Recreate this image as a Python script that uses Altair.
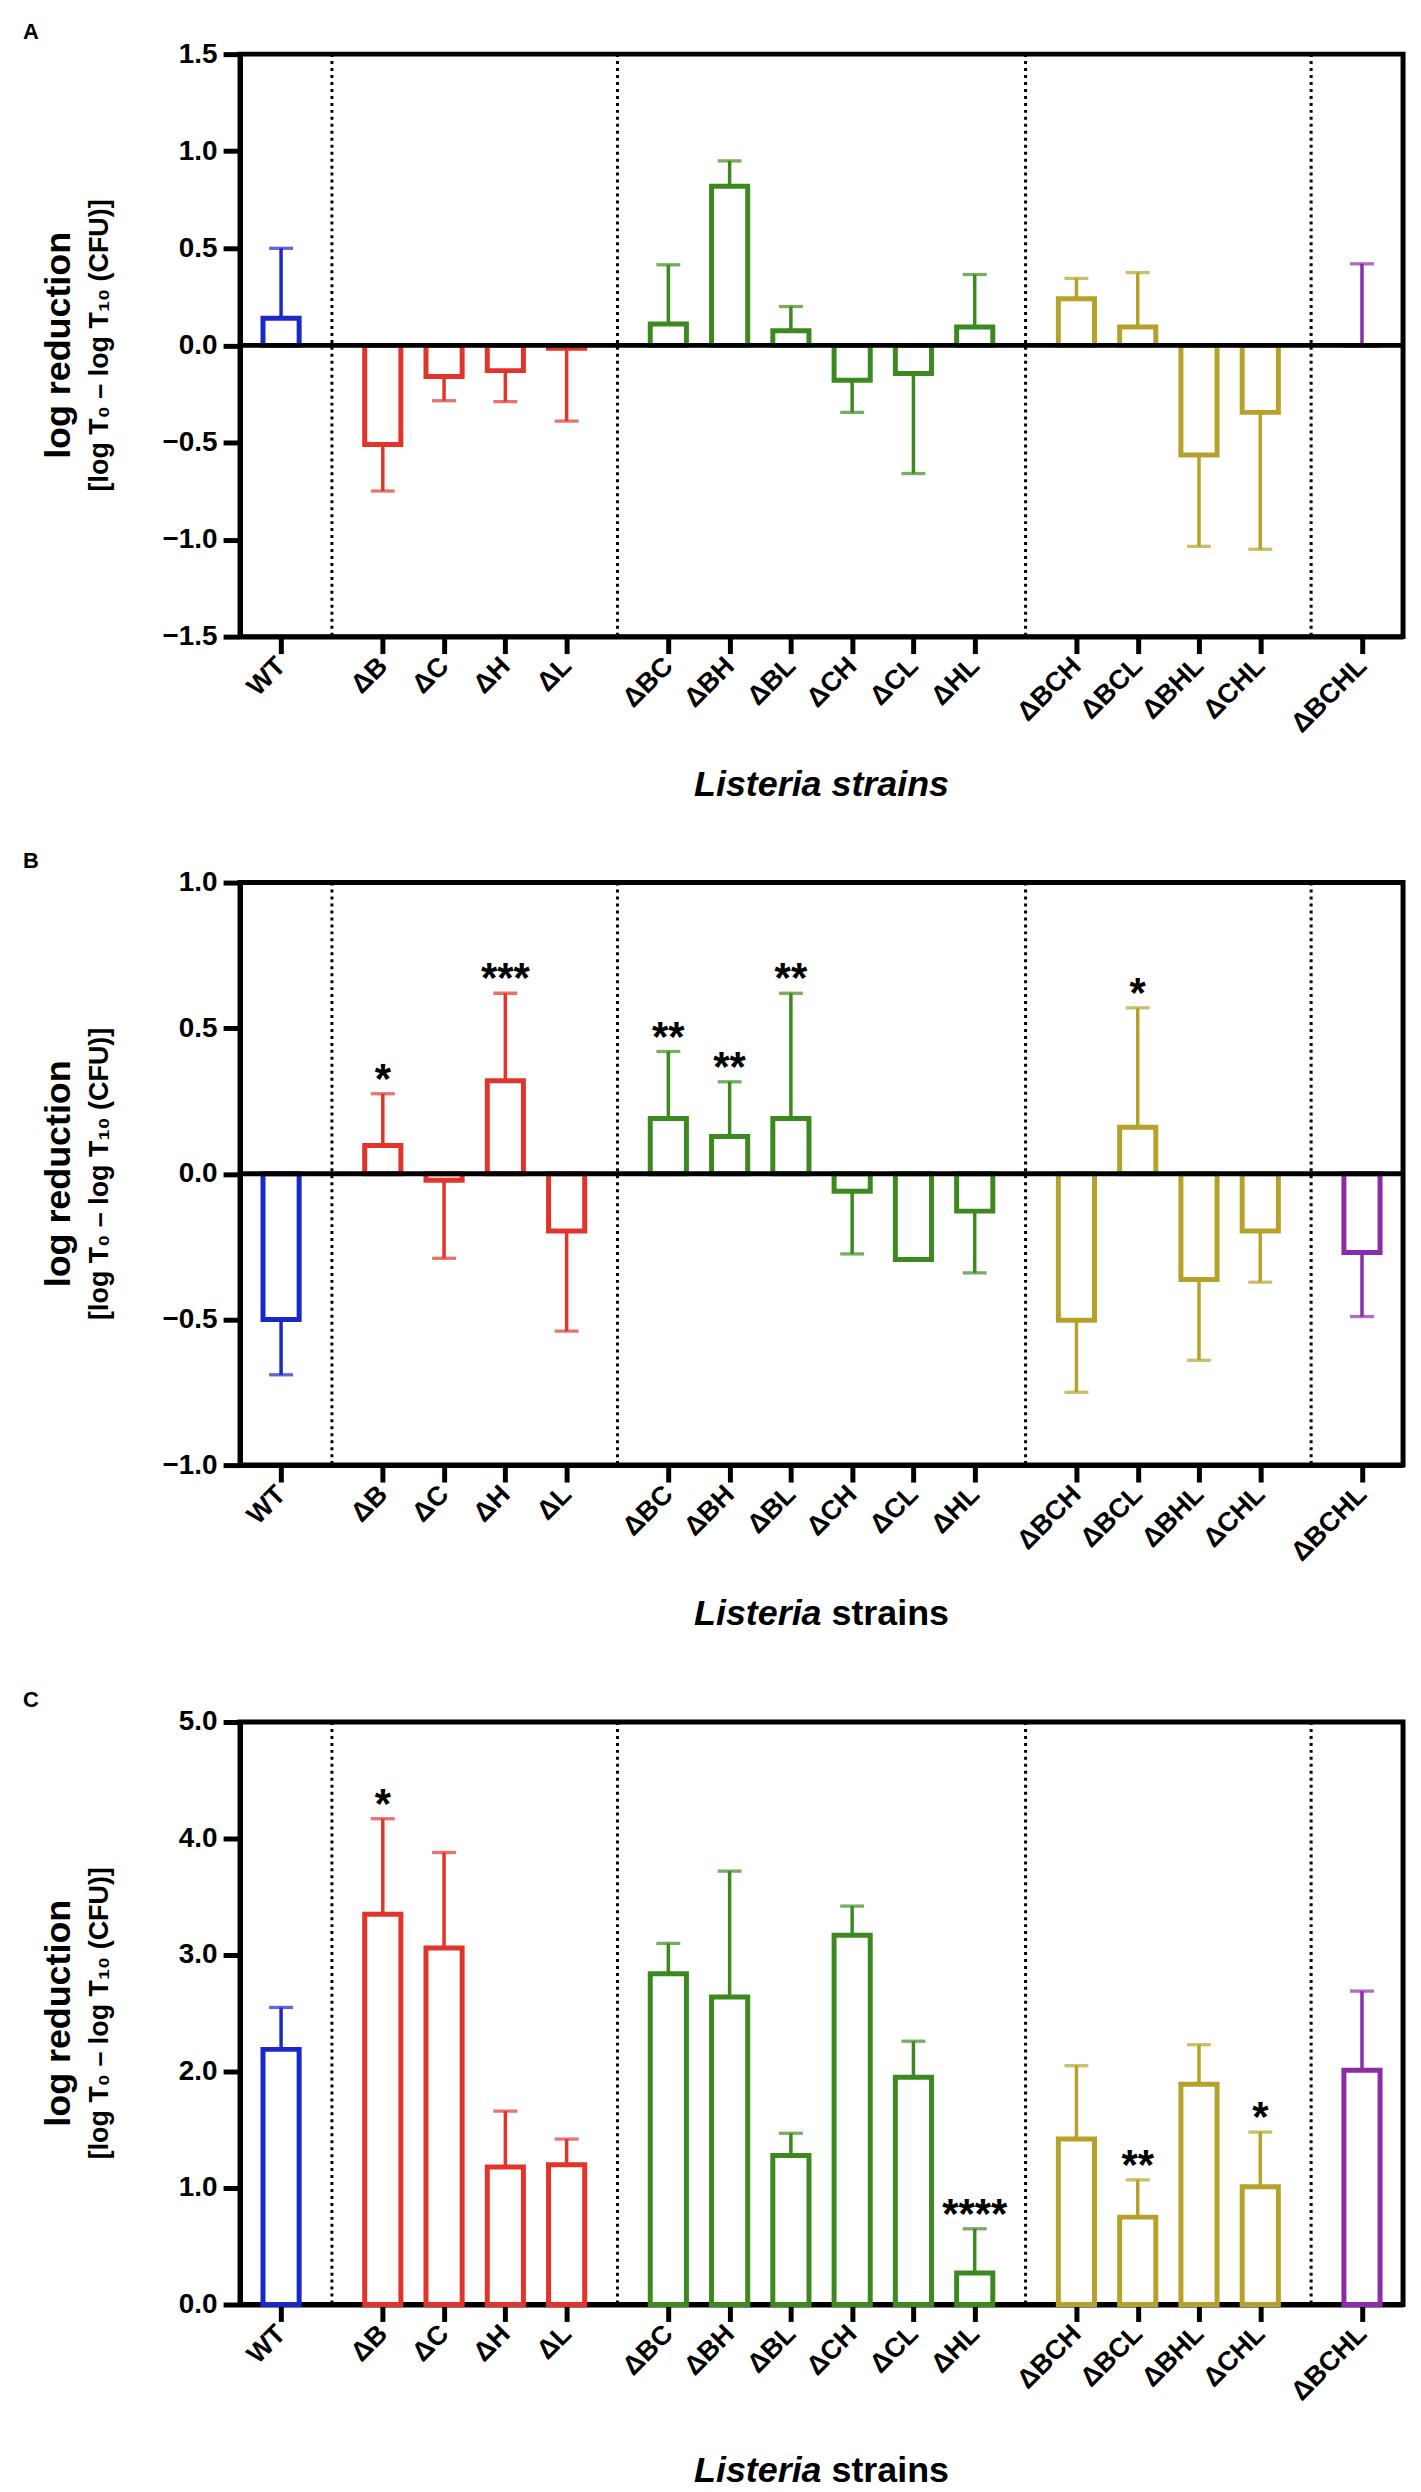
import json
import altair as alt
import pandas as pd

# ---------------- data ----------------
strains = ["WT", "ΔB", "ΔC", "ΔH", "ΔL", "ΔBC", "ΔBH", "ΔBL", "ΔCH", "ΔCL", "ΔHL",
           "ΔBCH", "ΔBCL", "ΔBHL", "ΔCHL", "ΔBCHL"]
group = [0, 1, 1, 1, 1, 2, 2, 2, 2, 2, 2, 3, 3, 3, 3, 4]
group_colors = ["#1B28C8", "#E3342C", "#3C8A1F", "#B6A12A", "#8B2CA8"]

# Panel A
A_mean = [0.14, -0.51, -0.16, -0.13, -0.015, 0.11, 0.82, 0.075, -0.18, -0.145, 0.095,
          0.24, 0.095, -0.565, -0.345, 0.0]
A_sd = [0.36, 0.24, 0.125, 0.16, 0.375, 0.305, 0.13, 0.125, 0.165, 0.515, 0.27,
        0.105, 0.28, 0.47, 0.705, 0.42]
A_sig = [""] * 16

# Panel B
B_mean = [-0.50, 0.097, -0.022, 0.32, -0.196, 0.19, 0.128, 0.19, -0.06, -0.294, -0.128,
          -0.503, 0.16, -0.363, -0.196, -0.27]
B_sd = [0.19, 0.178, 0.268, 0.30, 0.344, 0.23, 0.188, 0.43, 0.215, 0.0, 0.212,
        0.247, 0.41, 0.277, 0.176, 0.22]
B_sig = ["", "*", "", "***", "", "**", "**", "**", "", "", "", "", "*", "", "", ""]

# Panel C
C_mean = [2.19, 3.35, 3.06, 1.18, 1.20, 2.84, 2.64, 1.28, 3.17, 1.95, 0.27,
          1.42, 0.75, 1.89, 1.01, 2.01]
C_sd = [0.36, 0.82, 0.82, 0.48, 0.22, 0.26, 1.08, 0.19, 0.25, 0.31, 0.38,
        0.63, 0.32, 0.34, 0.47, 0.68]
C_sig = ["", "*", "", "", "", "", "", "", "", "", "****", "", "**", "", "*", ""]

A_ticks = [-1.5, -1.0, -0.5, 0.0, 0.5, 1.0, 1.5]
B_ticks = [-1.0, -0.5, 0.0, 0.5, 1.0]
C_ticks = [0.0, 1.0, 2.0, 3.0, 4.0, 5.0]

# ---------------- layout helpers ----------------
FONT = "Liberation Sans, Arial, Helvetica, sans-serif"
W, H = 1168, 585
GAP = 0.66          # extra space between strain groups (in bar slots)
HW = 0.295          # half bar width (in slots)
pos = [i + GAP * g for i, g in enumerate(group)]
dividers = [(pos[i] + pos[i + 1]) / 2 for i in range(len(pos) - 1) if group[i] != group[i + 1]]
XDOM = [pos[0] - 0.67, pos[-1] + 0.67]

tick_keys = [round(p * 100) for p in pos]
label_expr = (json.dumps(strains, ensure_ascii=False)
              + "[indexof(" + json.dumps(tick_keys) + ", round(datum.value*100))]")


def make_panel(letter, mean, sd, sig, ydom, yticks, whole_italic, title_base, zero_line):
    sign = [1 if m >= 0 else -1 for m in mean]
    end = [m + s * d for m, s, d in zip(mean, sign, sd)]
    df = pd.DataFrame({
        "strain": strains,
        "pos": pos,
        "lo": [p - HW for p in pos],
        "hi": [p + HW for p in pos],
        "mean": mean,
        "end": end,
        "sig": sig,
        "color": [group_colors[g] for g in group],
    })
    xs = alt.Scale(domain=XDOM, nice=False, zero=False)
    ys = alt.Scale(domain=ydom, nice=False, zero=False)
    xax = alt.Axis(values=pos, labelExpr=label_expr, labelAngle=-45, labelAlign="right",
                   labelBaseline="middle", labelFontSize=27, labelFontWeight="bold",
                   labelPadding=8, title=None, grid=False, labelOverlap=False)
    yax = alt.Axis(values=yticks, format=".1f", labelFontSize=28, labelFontWeight="bold",
                   labelPadding=6, title=None, grid=False)
    base = alt.Chart(df)
    X = lambda f: alt.X(f, scale=xs, axis=xax)
    Y = lambda f: alt.Y(f, scale=ys, axis=yax)
    col = alt.Color("color:N", scale=None)
    stk = alt.Stroke("color:N", scale=None)

    divs = alt.Chart(pd.DataFrame({"d": dividers})).mark_rule(
        color="black", strokeWidth=3, strokeDash=[3, 4]).encode(x=X("d:Q"))
    bars = base.mark_bar(fillOpacity=0, strokeWidth=5).encode(
        x=X("lo:Q"), x2="hi:Q", y=Y("mean:Q"), y2=alt.datum(0), stroke=stk)
    stems = base.mark_rule(strokeWidth=3.5).encode(
        x=X("pos:Q"), y=Y("mean:Q"), y2="end:Q", stroke=stk)
    caps = base.mark_tick(orient="horizontal", size=24, thickness=3.3).encode(
        x=X("pos:Q"), y=Y("end:Q"), color=col)
    stars = base.transform_filter("datum.sig != ''").mark_text(
        fontSize=42, fontWeight="bold", baseline="alphabetic", dy=-1, color="black",
        font=FONT).encode(x=X("pos:Q"), y=Y("end:Q"), text="sig:N")

    one = pd.DataFrame({"a": [0]})
    tx = lambda **kw: alt.Chart(one).mark_text(color="black", font=FONT, fontWeight="bold", **kw)
    letter_t = tx(text=letter, fontSize=22, baseline="middle", align="center").encode(
        x=alt.value(-210), y=alt.value(-22))
    yt1 = tx(text="log reduction", fontSize=36, angle=270, baseline="middle",
             align="center").encode(x=alt.value(-182), y=alt.value(H / 2))
    yt2 = tx(text="[log T₀ – log T₁₀ (CFU)]", fontSize=27, angle=270, baseline="middle",
             align="center").encode(x=alt.value(-141), y=alt.value(H / 2))
    layers = [divs, bars, stems, caps]
    if zero_line:
        layers.append(alt.Chart(pd.DataFrame({"z": [0.0]})).mark_rule(
            color="black", strokeWidth=5).encode(y=Y("z:Q")))
    layers += [stars, letter_t, yt1, yt2]
    if whole_italic:
        layers.append(tx(text="Listeria strains", fontSize=36, fontStyle="italic", align="center",
                         baseline="alphabetic").encode(x=alt.value(W / 2), y=alt.value(H + title_base)))
    else:
        layers.append(tx(text="Listeria", fontSize=36, fontStyle="italic", align="right",
                         baseline="alphabetic").encode(x=alt.value(W / 2), y=alt.value(H + title_base)))
        layers.append(tx(text="strains", fontSize=36, align="left",
                         baseline="alphabetic").encode(x=alt.value(W / 2 + 10), y=alt.value(H + title_base)))
    return alt.layer(*layers).properties(width=W, height=H)


pA = make_panel("A", A_mean, A_sd, A_sig, [-1.5, 1.5], A_ticks, True, 160, True)
pB = make_panel("B", B_mean, B_sd, B_sig, [-1.0, 1.0], B_ticks, False, 161, True)
pC = make_panel("C", C_mean, C_sd, C_sig, [0.0, 5.0], C_ticks, False, 178, False)

chart = alt.vconcat(alt.vconcat(pA, pB, spacing=41), pC, spacing=51).properties(
    padding={"left": 12, "top": 5, "right": 5, "bottom": 2}
).configure(font=FONT).configure_view(
    stroke="black", strokeWidth=5
).configure_axis(
    domainColor="black", domainWidth=5, tickColor="black", tickWidth=5, tickSize=17,
    labelColor="black", labelFont=FONT, grid=False
)

chart.save("out.html", embed_options={"renderer": "svg", "actions": False})
